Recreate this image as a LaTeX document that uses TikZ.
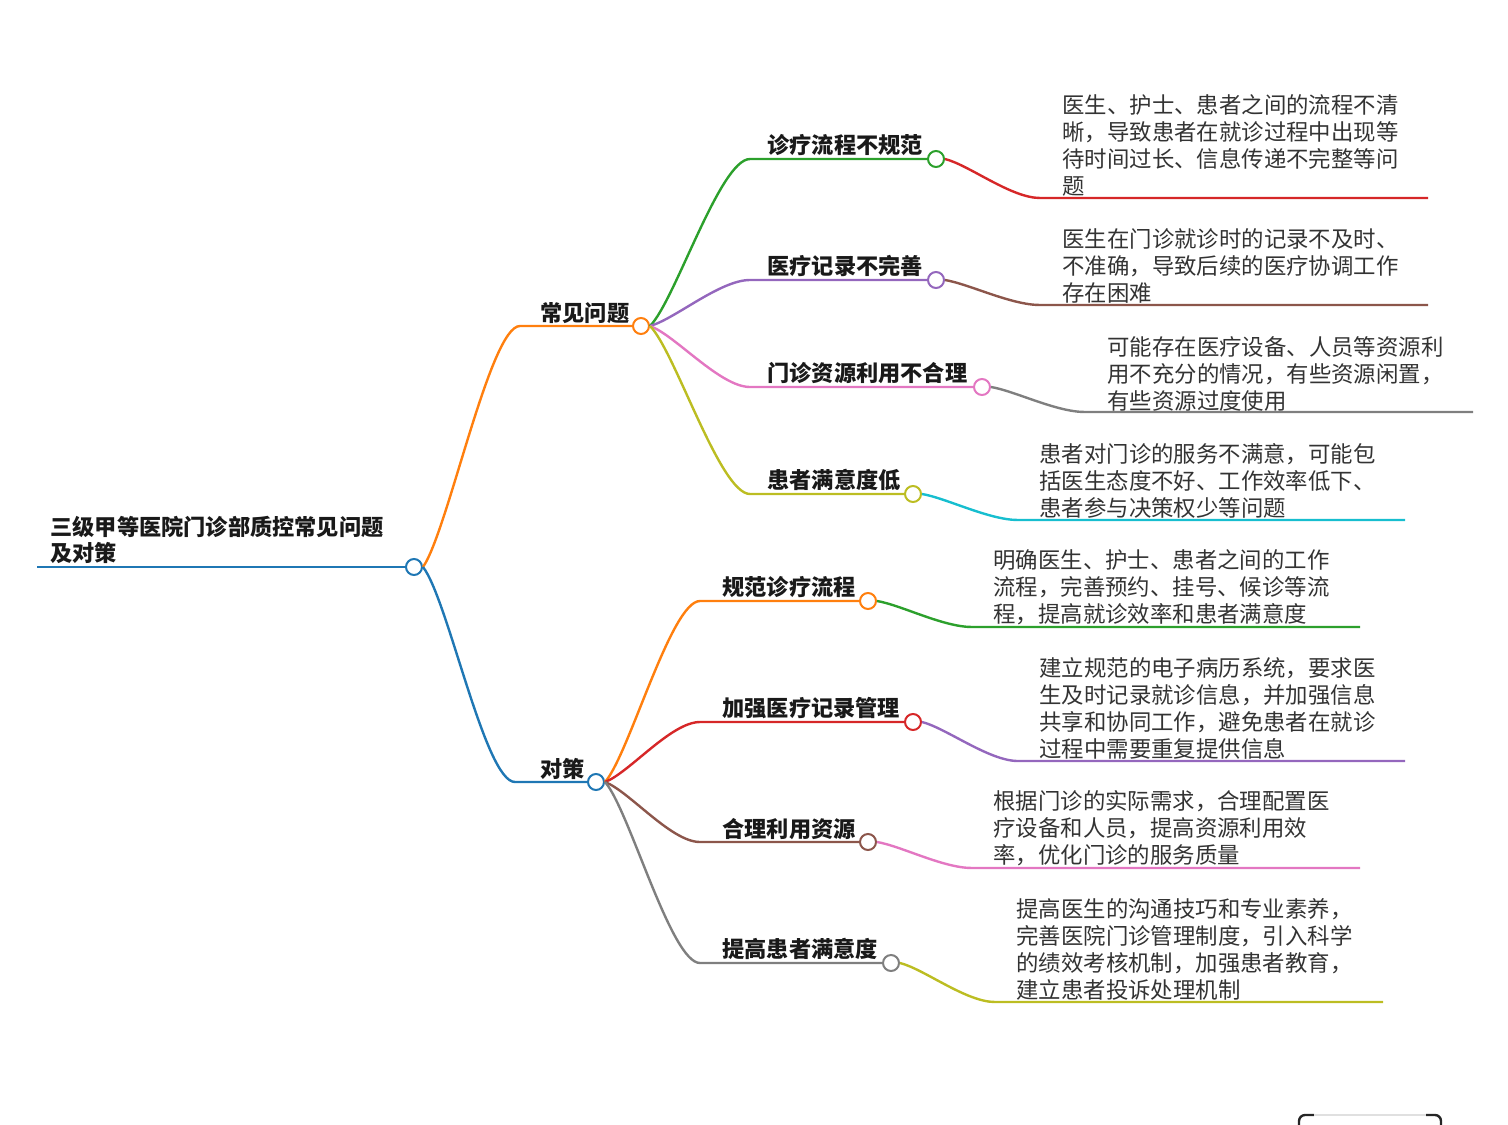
\documentclass[tikz,border=0pt]{standalone}
\usepackage{fontspec}
\setmainfont{Noto Sans CJK SC}
\usetikzlibrary{positioning,calc}
\definecolor{mblue}{RGB}{31,119,180}
\definecolor{morange}{RGB}{255,127,14}
\definecolor{mgreen}{RGB}{44,160,44}
\definecolor{mred}{RGB}{214,39,40}
\definecolor{mpurple}{RGB}{148,103,189}
\definecolor{mbrown}{RGB}{140,86,75}
\definecolor{mpink}{RGB}{227,119,194}
\definecolor{mgray}{RGB}{127,127,127}
\definecolor{molive}{RGB}{188,189,34}
\definecolor{mcyan}{RGB}{23,190,207}
\begin{document}
\begin{tikzpicture}[x=0.5pt,y=-0.5pt,
  dot/.style={circle,draw=#1,fill=white,line width=1pt,minimum size=8pt,inner sep=0pt},
  branch/.style={draw=#1,line width=1.2pt},
  topic/.style={anchor=west,inner sep=0pt,align=left,font=\fontsize{11.1}{13.2}\selectfont\bfseries,text=black!90},
  leaf/.style={anchor=west,inner sep=0pt,align=left,font=\fontsize{11.2}{13.5}\selectfont,text=black!80}]
\useasboundingbox (0,0) rectangle (1508,1124);

% root
\node[dot=mblue] (r) at (414,567) {};
\node[topic] (rt) at (50,540) {三级甲等医院门诊部质控常见问题\\及对策};
\coordinate (r0) at (37,567);
\draw[branch=mblue] (r0) -- (r.west);

% main branches
\node[dot=morange] (p) at (641,326) {};
\node[topic] (pt) at (540,313) {常见问题};
\coordinate (p0) at (520,326);
\node[dot=mblue] (s) at (596,782) {};
\node[topic] (st) at (540,769) {对策};
\coordinate (s0) at (515,782);
\draw[branch=morange] (r.east) .. controls +(25,-36) and +(-30,0) .. (p0) -- (p.west);
\draw[branch=mblue] (r.east) .. controls +(25,32) and +(-30,0) .. (s0) -- (s.west);

% problems
\node[dot=mgreen] (a1) at (936,159) {};
\node[topic] (a1t) at (767,145) {诊疗流程不规范};
\coordinate (a10) at (750,159);
\node[dot=mpurple] (a2) at (936,280) {};
\node[topic] (a2t) at (767,266) {医疗记录不完善};
\coordinate (a20) at (750,280);
\node[dot=mpink] (a3) at (982,387) {};
\node[topic] (a3t) at (767,373) {门诊资源利用不合理};
\coordinate (a30) at (750,387);
\node[dot=molive] (a4) at (913,494) {};
\node[topic] (a4t) at (767,480) {患者满意度低};
\coordinate (a40) at (750,494);
\draw[branch=mgreen] (p.east) .. controls +(25,-25) and +(-30,0) .. (a10) -- (a1.west);
\draw[branch=mpurple] (p.east) .. controls +(25,-7) and +(-30,0) .. (a20) -- (a2.west);
\draw[branch=mpink] (p.east) .. controls +(25,9) and +(-30,0) .. (a30) -- (a3.west);
\draw[branch=molive] (p.east) .. controls +(25,25) and +(-30,0) .. (a40) -- (a4.west);

% measures
\node[dot=morange] (b1) at (868,601) {};
\node[topic] (b1t) at (722,587) {规范诊疗流程};
\coordinate (b10) at (700,601);
\node[dot=mred] (b2) at (913,722) {};
\node[topic] (b2t) at (722,708) {加强医疗记录管理};
\coordinate (b20) at (700,722);
\node[dot=mbrown] (b3) at (868,842) {};
\node[topic] (b3t) at (722,829) {合理利用资源};
\coordinate (b30) at (700,842);
\node[dot=mgray] (b4) at (891,963) {};
\node[topic] (b4t) at (722,949) {提高患者满意度};
\coordinate (b40) at (700,963);
\draw[branch=morange] (s.east) .. controls +(24,-27) and +(-29,0) .. (b10) -- (b1.west);
\draw[branch=mred] (s.east) .. controls +(24,-9) and +(-29,0) .. (b20) -- (b2.west);
\draw[branch=mbrown] (s.east) .. controls +(24,9) and +(-29,0) .. (b30) -- (b3.west);
\draw[branch=mgray] (s.east) .. controls +(24,27) and +(-29,0) .. (b40) -- (b4.west);

% details of problems
\node[leaf] (a1d) at (1062,145.5) {医生、护士、患者之间的流程不清\\晰，导致患者在就诊过程中出现等\\待时间过长、信息传递不完整等问\\题};
\coordinate (a1s) at (1040,198);
\coordinate (a1e) at (1428,198);
\draw[branch=mred] (a1.east) .. controls +(24,6) and +(-29,0) .. (a1s) -- (a1e);
\node[leaf] (a2d) at (1062,266) {医生在门诊就诊时的记录不及时、\\不准确，导致后续的医疗协调工作\\存在困难};
\coordinate (a2s) at (1040,305);
\coordinate (a2e) at (1428,305);
\draw[branch=mbrown] (a2.east) .. controls +(24,4) and +(-29,0) .. (a2s) -- (a2e);
\node[leaf] (a3d) at (1107,373.5) {可能存在医疗设备、人员等资源利\\用不充分的情况，有些资源闲置，\\有些资源过度使用};
\coordinate (a3s) at (1085,412);
\coordinate (a3e) at (1473,412);
\draw[branch=mgray] (a3.east) .. controls +(24,4) and +(-29,0) .. (a3s) -- (a3e);
\node[leaf] (a4d) at (1039,480.5) {患者对门诊的服务不满意，可能包\\括医生态度不好、工作效率低下、\\患者参与决策权少等问题};
\coordinate (a4s) at (1018,520);
\coordinate (a4e) at (1405,520);
\draw[branch=mcyan] (a4.east) .. controls +(24,4) and +(-29,0) .. (a4s) -- (a4e);

% details of measures
\node[leaf] (b1d) at (993,587.5) {明确医生、护士、患者之间的工作\\流程，完善预约、挂号、候诊等流\\程，提高就诊效率和患者满意度};
\coordinate (b1s) at (972,627);
\coordinate (b1e) at (1360,627);
\draw[branch=mgreen] (b1.east) .. controls +(24,4) and +(-29,0) .. (b1s) -- (b1e);
\node[leaf] (b2d) at (1039,708) {建立规范的电子病历系统，要求医\\生及时记录就诊信息，并加强信息\\共享和协同工作，避免患者在就诊\\过程中需要重复提供信息};
\coordinate (b2s) at (1018,761);
\coordinate (b2e) at (1405,761);
\draw[branch=mpurple] (b2.east) .. controls +(24,6) and +(-29,0) .. (b2s) -- (b2e);
\node[leaf] (b3d) at (993,828.5) {根据门诊的实际需求，合理配置医\\疗设备和人员，提高资源利用效\\率，优化门诊的服务质量};
\coordinate (b3s) at (972,868);
\coordinate (b3e) at (1360,868);
\draw[branch=mpink] (b3.east) .. controls +(24,4) and +(-29,0) .. (b3s) -- (b3e);
\node[leaf] (b4d) at (1016,949.5) {提高医生的沟通技巧和专业素养，\\完善医院门诊管理制度，引入科学\\的绩效考核机制，加强患者教育，\\建立患者投诉处理机制};
\coordinate (b4s) at (995,1002);
\coordinate (b4e) at (1383,1002);
\draw[branch=molive] (b4.east) .. controls +(24,6) and +(-29,0) .. (b4s) -- (b4e);

% corner of a frame at the bottom edge
\draw[black!85,line width=1.2pt,rounded corners=3pt] (1299,1130) -- (1299,1115) -- (1314,1115);
\draw[black!85,line width=1.2pt,rounded corners=3pt] (1441,1130) -- (1441,1115) -- (1426,1115);
\draw[black!12,line width=1pt] (1314,1115) -- (1426,1115);
\end{tikzpicture}
\end{document}
